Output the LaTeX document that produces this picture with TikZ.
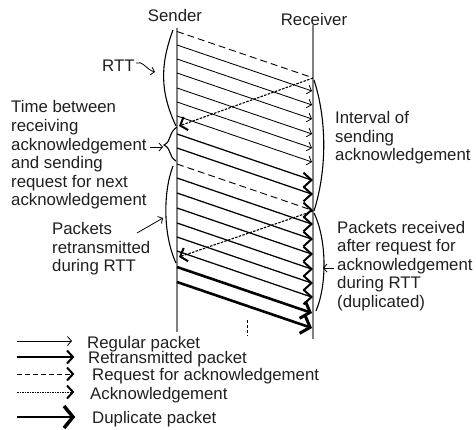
\documentclass[tikz,border=0pt]{standalone}
\usepackage{fontspec}
\setmainfont{Liberation Sans}
\usetikzlibrary{arrows.meta}
\begin{document}
\begin{tikzpicture}[x=1pt,y=-1pt,
  txt/.style={font=\fontsize{16.8}{18.6}\selectfont, text=black!88, inner sep=0pt, align=left},
  life/.style={black!50, line width=1.3pt},
  reg/.style={black, line width=0.85pt, -{Straight Barb[length=4pt,width=9pt,line width=0.8pt]}},
  ret/.style={black, line width=1.25pt},
  req/.style={black, line width=0.9pt, dash pattern=on 7pt off 4pt},
  ack/.style={black, line width=1.1pt, dash pattern=on 2.5pt off 1.3pt},
  acktip/.style={-{Straight Barb[length=6pt,width=14pt,line width=2pt]}},
  dup/.style={black, line width=2.6pt, -{Straight Barb[length=8pt,width=18pt,line width=3pt]}},
  chev/.style={black, line width=2pt, line join=miter, line cap=butt},
  bigchev/.style={black, line width=3.5pt, line join=miter},
  brace/.style={black, line width=1.1pt},
  lab/.style={black, line width=0.8pt, -{Straight Barb[length=3.5pt,width=8pt]}},
]
\useasboundingbox (0,0) rectangle (476,429);

% lifelines
\node[txt] (snd) at (175,15) {Sender};
\node[txt] (rcv) at (314,19) {Receiver};
\coordinate (stop) at (177,28); \coordinate (sbot) at (177,332);
\coordinate (rtop) at (313,25); \coordinate (rbot) at (313,339);
\draw[life] (stop) -- (sbot);
\draw[life] (rtop) -- (rbot);

% first request
\coordinate (q1s) at (177,31.5); \coordinate (q1r) at (312,77.5);
\draw[req] (q1s) -- (q1r);

% regular packets
\foreach \i/\y in {1/45,2/59,3/73,4/88,5/102,6/116}{
  \coordinate (gs\i) at (177,\y);
  \coordinate (gr\i) at (312,{\y+46});
  \draw[reg] (gs\i) -- (gr\i);
}

% first acknowledgement
\coordinate (k1r) at (313,78); \coordinate (k1s) at (179,126);
\draw[ack,acktip] (k1r) -- (k1s);

% retransmitted packets
\foreach \i/\y in {1/134,2/148,3/178,4/193,5/208,6/223,7/237,8/251}{
  \coordinate (ts\i) at (177,\y);
  \coordinate (tr\i) at (311.5,{\y+46});
  \draw[ret] (ts\i) -- (tr\i);
  \draw[chev] (303.5,{\y+46-7.3}) -- (tr\i) -- (303.5,{\y+46+7.3});
}

% second request
\coordinate (q2s) at (177,164); \coordinate (q2r) at (311.5,210);
\draw[req] (q2s) -- (q2r);
\draw[chev] (303.5,202.7) -- (q2r) -- (303.5,217.3);

% second acknowledgement
\coordinate (k2r) at (313,211); \coordinate (k2s) at (179,257);
\draw[ack,acktip] (k2r) -- (k2s);

% duplicate packets
\coordinate (d1s) at (177,267); \coordinate (d1r) at (312,313);
\coordinate (d2s) at (177,282); \coordinate (d2r) at (312,328);
\draw[dup] (d1s) -- (d1r);
\draw[dup] (d2s) -- (d2r);

% small dashed mark
\coordinate (m1) at (247,320); \coordinate (m2) at (247,336);
\draw[black, line width=1pt, dash pattern=on 3pt off 2pt] (m1) -- (m2);

% brackets left
\draw[brace] (173,30) .. controls (160,65) and (160,92) .. (176,126);
\node[txt, anchor=west] (rtt) at (102,66) {RTT};
\coordinate (rtta) at (136,63); \coordinate (rttb) at (155,72);
\draw[lab] (rtta) .. controls (142,60) and (147,70) .. (rttb);

\draw[brace] (177,127) .. controls (168,133) and (172,141) .. (164,145)
             .. controls (172,149) and (168,156) .. (176,161);
\node[txt, anchor=west] (tb) at (11,155) {Time between\\receiving\\acknowledgement\\and sending\\request for next\\acknowledgement};
\coordinate (tba) at (150,147); \coordinate (tbb) at (163,147);
\draw[lab] (tba) -- (tbb);

\draw[brace] (173,166) .. controls (163,192) and (163,235) .. (176,263);
\node[txt, anchor=west] (pr) at (52,249) {Packets\\retransmitted\\during RTT};
\coordinate (pra) at (137,233); \coordinate (prb) at (163,218);
\draw[lab] (pra) -- (prb);

% brackets right
\draw[brace] (314,80) .. controls (327,120) and (327,170) .. (314,211);
\node[txt, anchor=west] (iv) at (335,138) {Interval of\\sending\\acknowledgement};

\draw[brace] (314,213) .. controls (327,240) and (327,285) .. (316,311);
\node[txt, anchor=west] (rc) at (337,266) {Packets received\\after request for\\acknowledgement\\during RTT\\(duplicated)};
\coordinate (rca) at (334,268); \coordinate (rcb) at (323,268);
\draw[lab] (rca) -- (rcb);

% legend
\coordinate (l1a) at (17,341); \coordinate (l1b) at (72,341);
\draw[reg] (l1a) -- (l1b);
\node[txt, anchor=west] (t1) at (87,344) {Regular packet};

\coordinate (l2a) at (17,357); \coordinate (l2b) at (73,357);
\draw[ret] (l2a) -- (l2b);
\draw[chev] (67,350.5) -- (l2b) -- (67,363.5);
\node[txt, anchor=west] (t2) at (88,359.5) {Retransmitted packet};

\coordinate (l3a) at (17,374); \coordinate (l3b) at (73,374);
\draw[req, dash pattern=on 5pt off 3pt] (l3a) -- (l3b);
\draw[chev] (67,367.5) -- (l3b) -- (67,380.5);
\node[txt, anchor=west] (t3) at (92,376.5) {Request for acknowledgement};

\coordinate (l4a) at (17,392); \coordinate (l4b) at (73,392);
\draw[ack, line width=0.9pt, dash pattern=on 1.5pt off 1pt] (l4a) -- (l4b);
\draw[chev] (67,385.5) -- (l4b) -- (67,398.5);
\node[txt, anchor=west] (t4) at (90,395) {Acknowledgement};

\coordinate (l5a) at (17,417); \coordinate (l5b) at (73,417);
\draw[black, line width=2.6pt] (l5a) -- (l5b);
\draw[bigchev] (64,406) -- (l5b) -- (64,428);
\node[txt, anchor=west] (t5) at (92,419) {Duplicate packet};
\end{tikzpicture}
\end{document}
